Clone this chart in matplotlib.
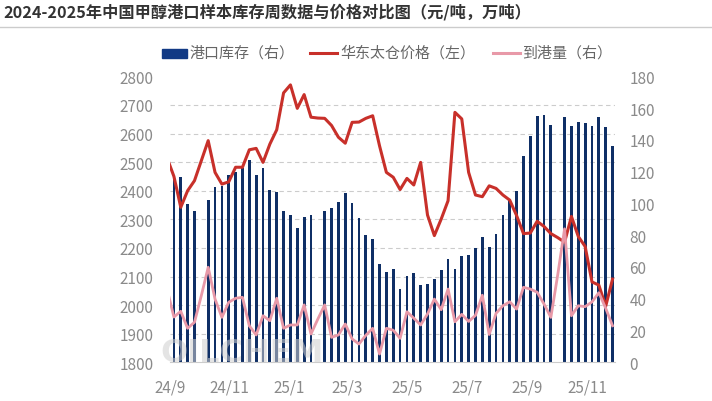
import numpy as np
import pandas as pd
import matplotlib
matplotlib.use('Agg')
import matplotlib.pyplot as plt
from matplotlib.lines import Line2D
from matplotlib.patches import Rectangle

plt.rcParams['font.family'] = ['Noto Sans CJK SC', 'DejaVu Sans']

# Weekly dates (first point lies just before the visible range)
weeks = pd.date_range('2024-08-29', periods=66, freq='7D')

# 港口库存 (万吨, right axis); NaN = holiday weeks without data
inventory = [np.nan,
             117.0, 116.4, 99.6, 95.2, np.nan, 102.1, 110.5, 111.1, 117.9, 120.0,
             122.1, 127.3, 117.9, 122.3, 108.4, 107.2, 95.4, 92.9, 84.3, 91.2,
             92.7, np.nan, 95.0, 96.9, 100.7, 106.4, 100.1, 90.6, 80.1, 77.6,
             61.9, 57.0, 58.7, 46.1, 54.1, 56.2, 48.6, 49.3, 52.4, 58.3,
             65.0, 58.7, 66.7, 67.5, 71.9, 78.7, 72.8, 80.7, 92.7, 102.1,
             107.8, 129.6, 142.2, 154.8, 155.4, 149.3, np.nan, 154.2, 148.5, 151.0,
             150.6, 148.5, 154.2, 147.9, 135.9]

# 华东太仓价格 (元/吨, left axis)
price = [2515,
         2450, 2342, 2400, 2435, 2505, 2575, 2464, 2423, 2431, 2482,
         2482, 2543, 2548, 2499, 2563, 2613, 2742, 2770, 2688, 2736,
         2657, 2654, 2653, 2628, 2587, 2566, 2639, 2640, 2653, 2662,
         2557, 2464, 2447, 2404, 2443, 2420, 2499, 2315, 2243, 2301,
         2365, 2674, 2651, 2464, 2385, 2379, 2417, 2408, 2385, 2367,
         2313, 2250, 2252, 2293, 2275, 2250, 2236, 2220, 2310, 2240,
         2205, 2081, 2070, 1996, 2091]

# 到港量 (万吨, right axis)
arrivals = [46.0,
            28.5, 32.1, 21.4, 25.2, 42.0, 59.8, 39.8, 28.3, 37.8, 40.3,
            40.9, 23.0, 17.2, 29.3, 26.2, 40.3, 21.4, 23.5, 23.5, 36.1,
            17.8, 27.2, 36.1, 15.7, 17.2, 24.1, 14.7, 11.5, 17.0, 21.4,
            5.2, 21.4, 20.2, 15.1, 31.8, 27.8, 23.5, 30.4, 39.8, 33.1,
            46.1, 25.5, 30.2, 25.7, 29.5, 42.2, 17.5, 30.8, 35.6, 38.1,
            33.5, 47.2, 46.1, 44.1, 36.7, 28.3, 55.0, 84.0, 29.3, 35.6,
            35.0, 38.0, 43.8, 34.0, 23.0]

left_ticks = np.arange(1800, 2801, 100)
right_ticks = np.arange(0, 181, 20)
month_ticks = pd.date_range('2024-09-01', '2025-11-01', freq='2MS')

title = '2024-2025年中国甲醇港口样本库存周数据与价格对比图（元/吨，万吨）'
legend_labels = ['港口库存（右）', '华东太仓价格（左）', '到港量（右）']

bar_color = '#0f2f66'
price_color = '#c8302a'
arrival_color = '#e899a8'
tick_color = '#8a8a8a'

W, H = 712, 402
fig = plt.figure(figsize=(W / 100, H / 100), dpi=100)


def fx(px):
    return px / W


def fy(py):
    return 1 - py / H


ax = fig.add_axes([fx(170), fy(363.3), fx(615) - fx(170), fy(77.3) - fy(363.3)])
ax_p = ax.twinx()
ax_a = ax.twinx()

# bars: inventory
ax.bar(weeks, inventory, width=2.8, color=bar_color, zorder=2)
ax.set_ylim(0, 180)
ax.yaxis.tick_right()
ax.set_yticks(right_ticks)
ax.tick_params(axis='y', length=0, pad=10.5, labelsize=11, labelcolor=tick_color)

# grid lines follow the left axis ticks
ax.set_yticks(np.linspace(0, 180, len(left_ticks)), minor=True)
ax.tick_params(axis='y', which='minor', length=0)
ax.grid(which='minor', axis='y', color='#cccccc', linestyle=(0, (4, 3)), linewidth=0.8, zorder=0)
ax.grid(which='major', axis='y', visible=False)

# price line (left axis)
ax_p.plot(weeks, price, color=price_color, linewidth=2.2, solid_joinstyle='round')
ax_p.set_ylim(1800, 2800)
ax_p.yaxis.tick_left()
ax_p.set_yticks(left_ticks)
ax_p.tick_params(axis='y', length=0, pad=12, labelsize=11, labelcolor=tick_color)

# arrivals line (right axis scale)
ax_a.plot(weeks, arrivals, color=arrival_color, linewidth=2.0, solid_joinstyle='round')
ax_a.set_ylim(0, 180)
ax_a.yaxis.set_visible(False)

ax.set_xlim(pd.Timestamp('2024-09-01'), pd.Timestamp('2025-11-29 12:00'))
ax.set_xticks(month_ticks)
ax.set_xticklabels([f"{d.year % 100}/{d.month}" for d in month_ticks])
ax.tick_params(axis='x', length=0, pad=12, labelsize=11, labelcolor=tick_color)

for a in (ax, ax_p, ax_a):
    for side in ('top', 'left', 'right', 'bottom'):
        a.spines[side].set_visible(False)
ax.spines['bottom'].set_visible(True)
ax.spines['bottom'].set_color('#cccccc')

# watermark
fig.text(fx(160), fy(354), 'OILCHEM', fontsize=23, fontweight='bold', color='#cfcfcf',
         alpha=0.55, ha='left', va='center', family='DejaVu Sans', zorder=10)

# title and separator
fig.text(fx(3), fy(12.5), title, fontsize=11.7, fontweight='bold', color='#333333',
         ha='left', va='center')
fig.add_artist(Line2D([0, 1], [fy(27.5), fy(27.5)], color='#cccccc', linewidth=1))

# legend
ly = fy(53.5)
fig.add_artist(Rectangle((fx(162), fy(58.5)), fx(25), fy(49.5) - fy(58.5),
                         color='#123a85', transform=fig.transFigure))
fig.text(fx(189), ly, legend_labels[0], fontsize=10.8, color='#666666', va='center')
fig.add_artist(Line2D([fx(310), fx(337)], [ly, ly], color=price_color, linewidth=2.2))
fig.text(fx(340), ly, legend_labels[1], fontsize=10.8, color='#666666', va='center')
fig.add_artist(Line2D([fx(493), fx(520)], [ly, ly], color=arrival_color, linewidth=2.2))
fig.text(fx(522), ly, legend_labels[2], fontsize=10.8, color='#666666', va='center')

fig.savefig('out.png', dpi=100)
